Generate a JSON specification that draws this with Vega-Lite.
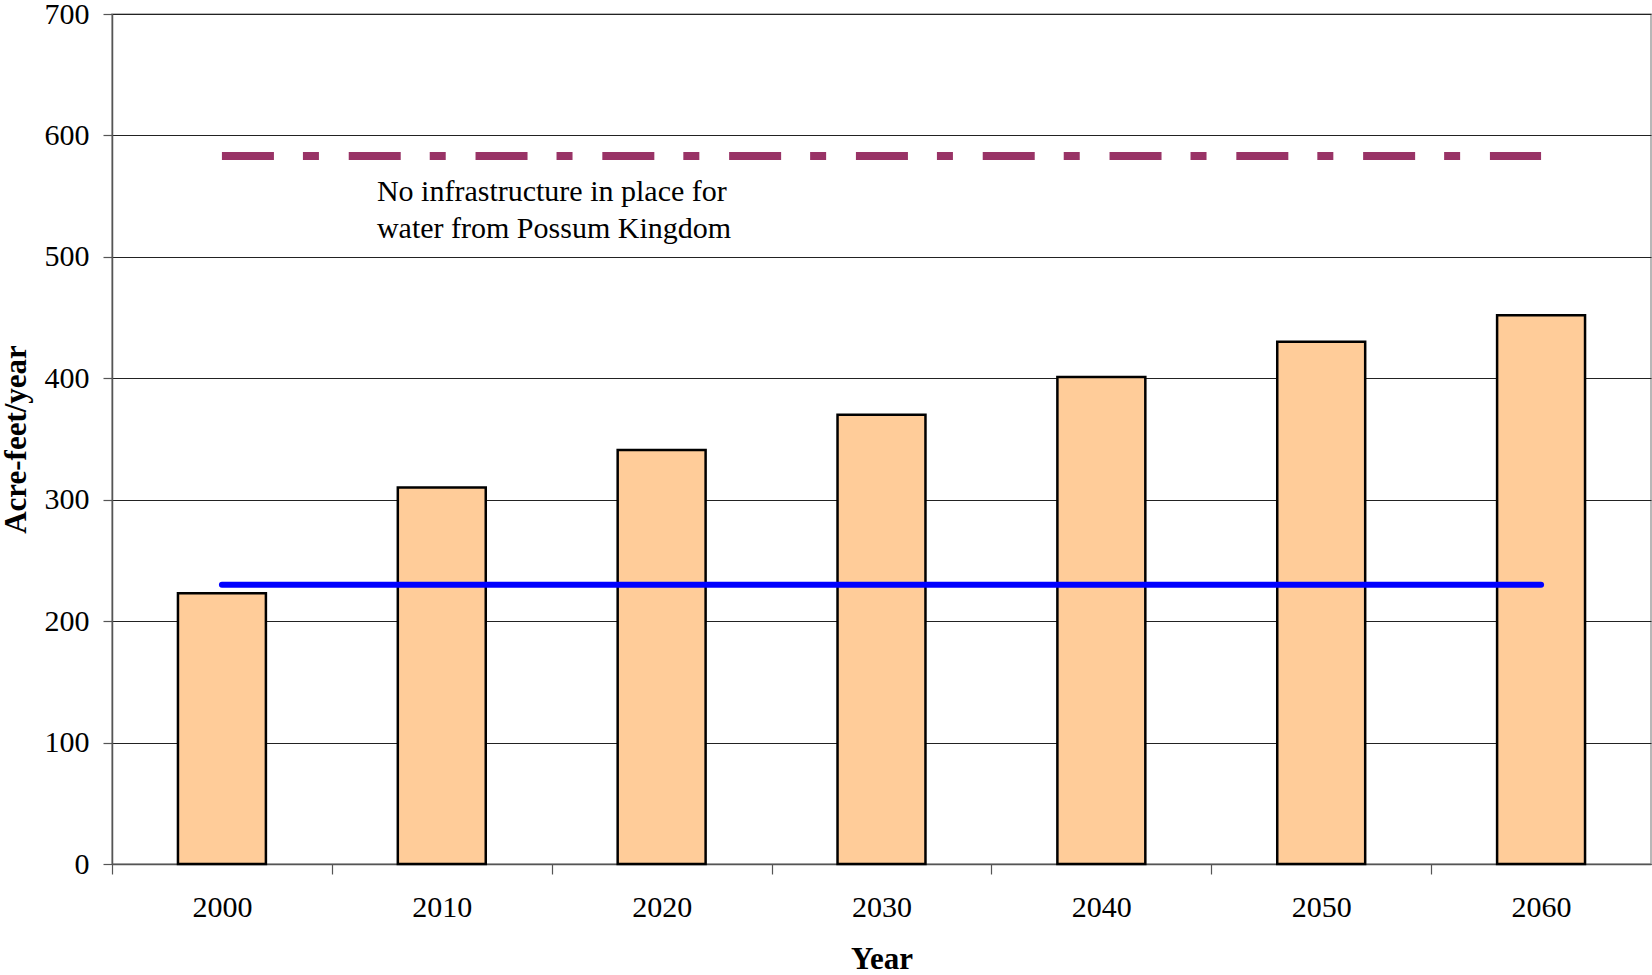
{
  "$schema": "https://vega.github.io/schema/vega-lite/v6.json",
  "width": 1539,
  "height": 850,
  "autosize": {"type": "none"},
  "padding": {"left": 112, "top": 14, "right": 1, "bottom": 111},
  "background": "white",
  "config": {
    "view": {"stroke": "#a0a0a0", "strokeWidth": 1.5},
    "font": "Liberation Serif",
    "axis": {
      "labelFont": "Liberation Serif",
      "titleFont": "Liberation Serif",
      "labelFontSize": 30,
      "titleFontSize": 31,
      "labelColor": "#000",
      "titleColor": "#000",
      "titleFontWeight": "bold",
      "domainColor": "#555",
      "domainWidth": 1.5,
      "tickColor": "#555",
      "tickWidth": 1.2
    }
  },
  "datasets": {
    "demand": [
      {"year": "2000", "value": 223},
      {"year": "2010", "value": 310},
      {"year": "2020", "value": 341},
      {"year": "2030", "value": 370},
      {"year": "2040", "value": 401},
      {"year": "2050", "value": 430},
      {"year": "2060", "value": 452}
    ],
    "supply": [
      {"year": "2000", "value": 230},
      {"year": "2060", "value": 230}
    ],
    "possum": [
      {"year": "2000", "value": 583},
      {"year": "2060", "value": 583}
    ],
    "note": [
      {"year": "2000", "value": 546, "label": ["No infrastructure in place for", "water from Possum Kingdom"]}
    ]
  },
  "layer": [
    {
      "data": {"name": "demand"},
      "mark": {"type": "bar", "fill": "#FFCC99", "stroke": "#000", "strokeWidth": 2.5},
      "encoding": {
        "x": {
          "field": "year", "type": "nominal", "title": "Year",
          "scale": {"paddingInner": 0.6, "paddingOuter": 0.3},
          "axis": {"labelAngle": 0, "tickOffset": -109.93, "labelOffset": 109.93, "tickSize": 10, "labelPadding": 18, "titlePadding": 22, "grid": false}
        },
        "y": {
          "field": "value", "type": "quantitative", "title": "Acre-feet/year",
          "scale": {"domain": [0, 700], "nice": false},
          "axis": {"values": [0, 100, 200, 300, 400, 500, 600, 700], "tickSize": 9, "labelPadding": 14, "titlePadding": 12, "grid": true, "gridColor": "#222", "gridWidth": 1}
        }
      }
    },
    {
      "data": {"name": "supply"},
      "mark": {"type": "line", "color": "#0000FF", "strokeWidth": 6, "strokeCap": "round"},
      "encoding": {
        "x": {"field": "year", "type": "nominal"},
        "y": {"field": "value", "type": "quantitative"}
      }
    },
    {
      "data": {"name": "possum"},
      "mark": {"type": "line", "color": "#993366", "strokeWidth": 8, "strokeDash": [52, 29, 16, 29.8]},
      "encoding": {
        "x": {"field": "year", "type": "nominal"},
        "y": {"field": "value", "type": "quantitative"}
      }
    },
    {
      "data": {"name": "note"},
      "mark": {"type": "text", "align": "left", "baseline": "alphabetic", "fontSize": 30, "font": "Liberation Serif", "lineHeight": 36.5, "dx": 155, "color": "#000"},
      "encoding": {
        "x": {"field": "year", "type": "nominal"},
        "y": {"field": "value", "type": "quantitative"},
        "text": {"field": "label"}
      }
    }
  ]
}
